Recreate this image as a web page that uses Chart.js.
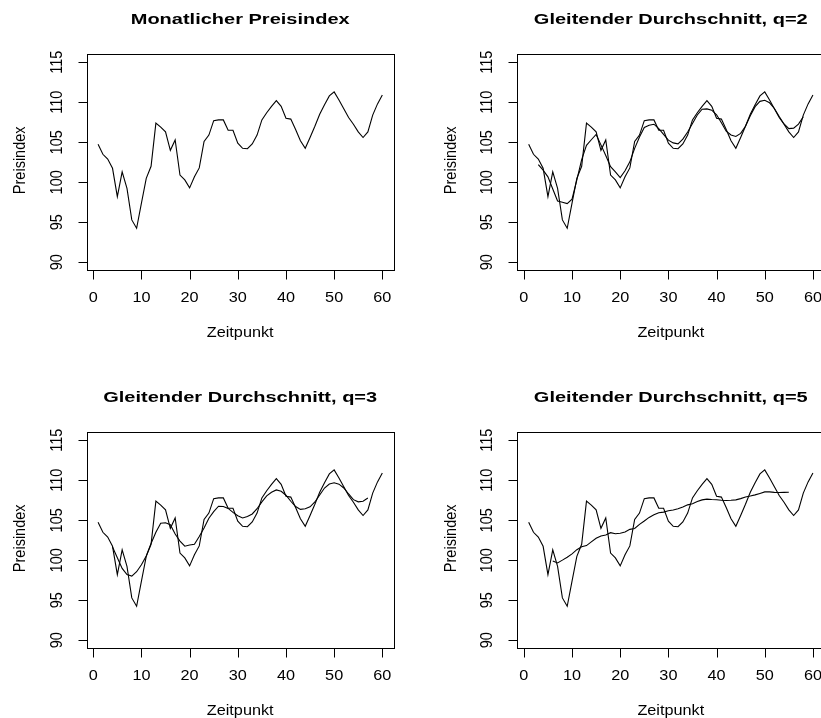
<!DOCTYPE html>
<html>
<head>
<meta charset="utf-8">
<title>Monatlicher Preisindex – Gleitende Durchschnitte</title>
<script src="https://cdn.jsdelivr.net/npm/chart.js@4.4.1/dist/chart.umd.min.js"></script>
<style>
  html, body { margin: 0; padding: 0; background: #fff; width: 821px; height: 718px; overflow: hidden; }
  canvas { position: absolute; left: 0; top: 0; }
</style>
</head>
<body>
<canvas id="c1" width="830" height="718"></canvas>
<canvas id="c2" width="830" height="718"></canvas>
<canvas id="c3" width="830" height="718"></canvas>
<canvas id="c4" width="830" height="718"></canvas>
<script>
// Monthly price index, t = 1 .. 60
const preisindex = [
  104.75, 103.5, 102.9, 101.75, 98.2, 101.3, 99.25, 95.3, 94.25, 97.4,
  100.5, 102.0, 107.4, 106.9, 106.3, 104.0, 105.3, 100.9, 100.3, 99.3,
  100.7, 101.8, 105.1, 105.9, 107.7, 107.8, 107.8, 106.5, 106.5, 104.9,
  104.25, 104.2, 104.8, 105.9, 107.8, 108.7, 109.5, 110.2, 109.5, 108.0,
  107.9, 106.6, 105.2, 104.25, 105.6, 107.0, 108.5, 109.7, 110.8, 111.3,
  110.3, 109.2, 108.1, 107.25, 106.3, 105.6, 106.3, 108.4, 109.8, 110.9
];

// Moving average q=2, t = 3 .. 58
const gd2Start = 3;
const gd2 = [
  102.22, 101.53, 100.68, 99.16, 97.66, 97.5, 97.34, 97.89, 100.31, 102.84,
  104.62, 105.32, 105.98, 104.68, 103.36, 101.96, 101.3, 100.6, 101.44, 102.56,
  104.24, 105.66, 106.86, 107.14, 107.26, 106.7, 105.99, 105.27, 104.93, 104.81,
  105.39, 106.28, 107.34, 108.42, 109.14, 109.18, 109.02, 108.44, 107.44, 106.39,
  105.91, 105.73, 106.11, 107.01, 108.32, 109.46, 110.12, 110.26, 109.94, 109.23,
  108.23, 107.29, 106.71, 106.77, 107.28, 108.2
];

// Moving average q=3, t = 4 .. 57
const gd3Start = 4;
const gd3 = [
  101.66, 100.31, 98.99, 98.21, 98.03, 98.57, 99.44, 100.54, 102.11, 103.5,
  104.63, 104.69, 104.44, 103.29, 102.4, 101.76, 101.91, 102.0, 102.97, 104.04,
  105.26, 106.09, 106.76, 106.73, 106.49, 105.99, 105.56, 105.29, 105.48, 105.79,
  106.45, 107.3, 108.06, 108.51, 108.8, 108.63, 108.13, 107.38, 106.72, 106.36,
  106.44, 106.69, 107.29, 108.16, 109.03, 109.54, 109.7, 109.52, 109.04, 108.29,
  107.58, 107.31, 107.39, 107.79
];

// Moving average q=5, t = 6 .. 55
const gd5Start = 6;
const gd5 = [
  99.92, 99.67, 100.02, 100.39, 100.8, 101.33, 101.69, 101.84, 102.3, 102.75,
  103.05, 103.17, 103.45, 103.32, 103.39, 103.53, 103.87, 103.98, 104.49, 104.91,
  105.36, 105.68, 105.95, 106.02, 106.2, 106.29, 106.44, 106.66, 106.93, 107.07,
  107.34, 107.55, 107.65, 107.6, 107.57, 107.5, 107.48, 107.5, 107.55, 107.71,
  107.92, 108.04, 108.18, 108.36, 108.55, 108.55, 108.49, 108.48, 108.49, 108.5
];

const xTicks = [0, 10, 20, 30, 40, 50, 60];
const yTicks = [90, 95, 100, 105, 110, 115];
const panelTitles = [
  'Monatlicher Preisindex',
  'Gleitender Durchschnitt, q=2',
  'Gleitender Durchschnitt, q=3',
  'Gleitender Durchschnitt, q=5'
];
const xTitle = 'Zeitpunkt';
const yTitle = 'Preisindex';

// ---- layout of the 2x2 grid of plot boxes (page pixels) ----
const CANVAS_W = 830, CANVAS_H = 718;
const BOX_W = 307, BOX_H = 216;
const colLeft = [86.7, 517.3];
const rowTop = [54.3, 432.3];

const FONT = '"Liberation Sans", Arial, Helvetica, sans-serif';

// Text with a horizontal stretch; rotated text reads bottom-to-top.
function drawText(ctx, str, x, y, o) {
  ctx.save();
  ctx.translate(x, y);
  ctx.font = (o.bold ? 'bold ' : '') + o.size + 'px ' + FONT;
  ctx.textAlign = 'center';
  ctx.textBaseline = 'alphabetic';
  ctx.fillStyle = '#000';
  if (o.rot) {
    ctx.rotate(-Math.PI / 2);
    ctx.scale(1, o.sx);
  } else {
    ctx.scale(o.sx, 1);
  }
  ctx.fillText(str, 0, 0);
  ctx.restore();
}

const LABEL = { size: 14.5, sx: 1.12 };
const MAIN = { size: 15.5, sx: 1.29, bold: true };
const TICK_LEN = 9;

// Base-graphics style frame: box, outward ticks, labels and titles
const frameAxes = {
  id: 'frameAxes',
  afterDraw(chart, args, opts) {
    const { ctx, chartArea: a, scales: { x, y } } = chart;
    const L = Math.round(a.left) + 0.5, R = Math.round(a.right) + 0.5;
    const T = Math.round(a.top) + 0.5, B = Math.round(a.bottom) + 0.5;
    ctx.save();
    ctx.strokeStyle = '#000';
    ctx.lineWidth = 1;
    ctx.strokeRect(L, T, R - L, B - T);
    ctx.beginPath();
    xTicks.forEach(v => {
      const px = Math.round(x.getPixelForValue(v)) + 0.5;
      ctx.moveTo(px, B);
      ctx.lineTo(px, B + TICK_LEN);
    });
    yTicks.forEach(v => {
      const py = Math.round(y.getPixelForValue(v)) + 0.5;
      ctx.moveTo(L, py);
      ctx.lineTo(L - TICK_LEN, py);
    });
    ctx.stroke();
    ctx.restore();

    xTicks.forEach(v => drawText(ctx, String(v), x.getPixelForValue(v), a.bottom + 32, LABEL));
    yTicks.forEach(v => drawText(ctx, String(v), a.left - 25, y.getPixelForValue(v), Object.assign({ rot: true }, LABEL)));
    const cx = (a.left + a.right) / 2;
    drawText(ctx, xTitle, cx, a.bottom + 66.7, LABEL);
    drawText(ctx, yTitle, a.left - 61.7, (a.top + a.bottom) / 2 - 2, Object.assign({ rot: true }, LABEL));
    drawText(ctx, opts.title, cx, a.top - 30.8, MAIN);
  }
};

function series(values, start) {
  return values.map((v, i) => ({ x: start + i, y: v }));
}

function lineSet(values, start) {
  return {
    data: series(values, start),
    borderColor: '#000',
    borderWidth: 1.1,
    pointRadius: 0,
    tension: 0,
    fill: false
  };
}

function makePanel(canvasId, col, row, title, datasets) {
  const left = colLeft[col], top = rowTop[row];
  return new Chart(document.getElementById(canvasId), {
    type: 'line',
    data: { datasets },
    options: {
      responsive: false,
      animation: false,
      devicePixelRatio: 1,
      events: [],
      layout: {
        padding: {
          left: left,
          top: top,
          right: CANVAS_W - left - BOX_W,
          bottom: CANVAS_H - top - BOX_H
        }
      },
      scales: {
        x: { type: 'linear', min: -1.36, max: 62.36, display: false },
        y: { type: 'linear', min: 89, max: 116, display: false }
      },
      plugins: {
        legend: { display: false },
        tooltip: { enabled: false },
        frameAxes: { title }
      }
    },
    plugins: [frameAxes]
  });
}

makePanel('c1', 0, 0, panelTitles[0], [lineSet(preisindex, 1)]);
makePanel('c2', 1, 0, panelTitles[1], [lineSet(preisindex, 1), lineSet(gd2, gd2Start)]);
makePanel('c3', 0, 1, panelTitles[2], [lineSet(preisindex, 1), lineSet(gd3, gd3Start)]);
makePanel('c4', 1, 1, panelTitles[3], [lineSet(preisindex, 1), lineSet(gd5, gd5Start)]);
</script>
</body>
</html>
